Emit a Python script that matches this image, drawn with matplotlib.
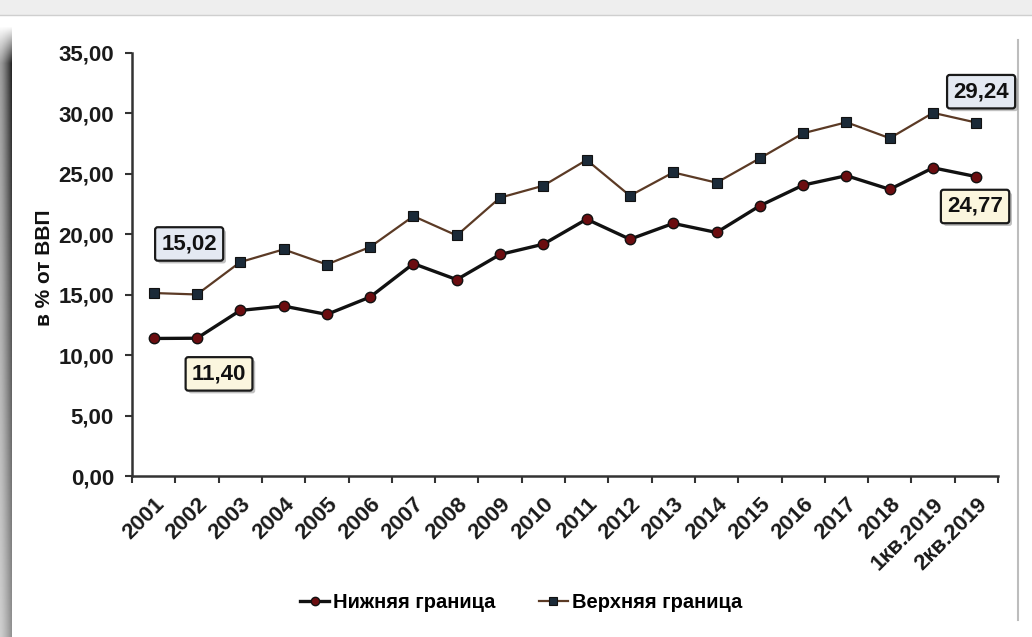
import matplotlib
matplotlib.use("Agg")
import matplotlib.pyplot as plt
import matplotlib.patheffects as pe
import numpy as np
from matplotlib.ticker import FuncFormatter, FixedLocator

plt.rcParams["font.family"] = ["Liberation Sans", "DejaVu Sans"]

periods = ["2001", "2002", "2003", "2004", "2005", "2006", "2007", "2008",
           "2009", "2010", "2011", "2012", "2013", "2014", "2015", "2016",
           "2017", "2018", "1кв.2019", "2кв.2019"]
lower = [11.38, 11.40, 13.70, 14.06, 13.37, 14.81, 17.57, 16.25, 18.33, 19.18,
         21.25, 19.59, 20.90, 20.15, 22.36, 24.07, 24.85, 23.72, 25.50, 24.77]
upper = [15.14, 15.02, 17.70, 18.75, 17.50, 18.95, 21.50, 19.90, 23.03, 24.02,
         26.15, 23.19, 25.12, 24.27, 26.29, 28.36, 29.27, 27.95, 30.05, 29.24]

lower_name = "Нижняя граница"
upper_name = "Верхняя граница"
y_label = "в % от ВВП"

W, H = 1032, 637
fig = plt.figure(figsize=(W / 100, H / 100), dpi=100)
fig.patch.set_facecolor("white")

# page frame: grey strip on top, dark shadow on the left, thin line on the right
bg = fig.add_axes([0, 0, 1, 1], zorder=-5)
bg.set_xlim(0, W)
bg.set_ylim(H, 0)
bg.axis("off")
bg.add_patch(plt.Rectangle((0, 0), W, 15, color="#eeeeee", lw=0))
bg.plot([0, W], [15, 15], color="#cfcfcf", lw=1)
xs = np.linspace(0, 1, 12)
ys = np.linspace(0, 1, 200)
ramp = 0.45 + 0.55 * xs ** 1.3
env = np.clip(np.where(ys < 0.06, ys / 0.06, 1.0 - 0.5 * (ys - 0.06) / 0.94), 0, 1)
dark = np.outer(env, ramp)
shade = 1 - 0.85 * dark
bg.imshow(shade, cmap="gray", vmin=0, vmax=1, extent=(0, 12, H, 25),
          aspect="auto", interpolation="bilinear")
bg.plot([1018, 1018], [40, 620], color="#bdbdbd", lw=1.5)

ax = fig.add_axes([132 / W, 161 / H, (998 - 132) / W, (584 - 161) / H])
x = np.arange(len(periods))

ax.plot(x, lower, color="#111111", lw=2.4, marker="o", ms=7.5,
        mfc="#6b0d10", mec="#111111", mew=1.0, label=lower_name, zorder=3)
ax.plot(x, upper, color="#5b3a25", lw=1.6, marker="s", ms=7,
        mfc="#1b2a38", mec="#111111", mew=0.8, label=upper_name, zorder=3)

ax.set_xlim(-0.5, len(periods) - 0.5)
ax.set_ylim(0, 35)
ax.set_yticks(np.arange(0, 36, 5))
ax.yaxis.set_major_formatter(FuncFormatter(lambda v, _: f"{v:.2f}".replace(".", ",")))
ax.set_xticks(x)
ax.set_xticklabels(periods, rotation=45, ha="right", rotation_mode="anchor")
ax.xaxis.set_minor_locator(FixedLocator(np.arange(-0.5, len(periods), 1)))
ax.tick_params(axis="x", which="major", length=0, pad=13)
ax.tick_params(axis="x", which="minor", length=5, width=1.5, color="#333333")
ax.tick_params(axis="y", length=5, width=1.5, color="#333333", pad=8)
for lab in ax.get_xticklabels() + ax.get_yticklabels():
    lab.set_fontsize(16)
    lab.set_fontweight("bold")
    lab.set_color("#1a1a1a")
for side in ("top", "right"):
    ax.spines[side].set_visible(False)
for side in ("left", "bottom"):
    ax.spines[side].set_color("#333333")
    ax.spines[side].set_linewidth(1.8)

fig.text(45 / W, 1 - 268 / H, y_label, rotation=90, ha="center", va="center",
         fontsize=15, fontweight="bold", color="#111111")


def fmt(v):
    return f"{v:.2f}".replace(".", ",")


def value_box(xv, yv, value, face):
    t = ax.text(xv, yv, fmt(value), ha="center", va="center", fontsize=16,
                fontweight="bold", color="#111111", zorder=5,
                bbox=dict(boxstyle="round,pad=0.28,rounding_size=0.12",
                          fc=face, ec="#1a1a1a", lw=1.6))
    t.get_bbox_patch().set_path_effects(
        [pe.SimplePatchShadow(offset=(2, -2), shadow_rgbFace="#999999", alpha=0.6),
         pe.Normal()])


value_box(0.82, 19.2, upper[1], "#e4e9f2")
value_box(1.51, 8.45, lower[1], "#fbf6de")
value_box(19.11, 31.8, upper[-1], "#e4e9f2")
value_box(18.97, 22.3, lower[-1], "#fbf6de")

fig.legend(loc="center", bbox_to_anchor=(0.505, 1 - 603 / H), ncol=2,
           frameon=False, handlelength=1.4, handletextpad=0.2,
           columnspacing=2.2, markerscale=0.8,
           prop={"size": 14.5, "weight": "bold"})

fig.savefig("out.png", dpi=100)
